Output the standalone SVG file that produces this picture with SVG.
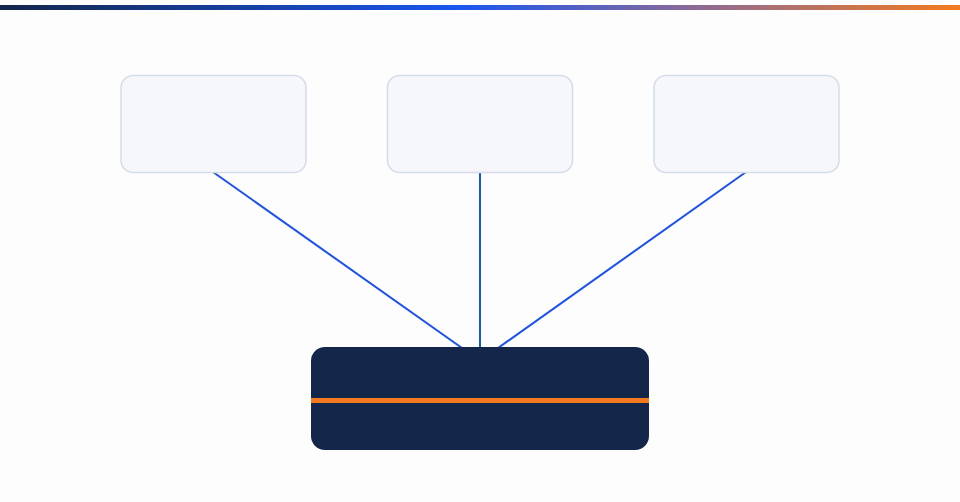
<svg xmlns="http://www.w3.org/2000/svg" width="960" height="502" viewBox="0 0 960 502">
<defs>
<linearGradient id="topbar" x1="0" y1="0" x2="1" y2="0">
<stop offset="0" stop-color="#13264a"/>
<stop offset="0.48" stop-color="#1a56f0"/>
<stop offset="0.72" stop-color="#8a6a96"/>
<stop offset="1" stop-color="#f47a1f"/>
</linearGradient>
<style>
.card{fill:#f5f7fa;stroke:#d6dce7;stroke-width:1.5}
.hub{fill:#14264a}
.link{stroke:#1a4ff0;stroke-width:2;fill:none}
</style>
</defs>
<rect x="0" y="0" width="960" height="502" fill="#fdfdfd"/>
<rect x="0" y="5" width="960" height="5" fill="url(#topbar)"/>
<g id="connectors">
<line class="link" x1="213" y1="172" x2="462" y2="348"/>
<line class="link" x1="480" y1="172" x2="480" y2="348"/>
<line class="link" x1="746" y1="172" x2="498" y2="348"/>
</g>
<g id="node-left"><rect class="card" x="121" y="75.5" width="185" height="97" rx="12"/></g>
<g id="node-middle"><rect class="card" x="387.5" y="75.5" width="185" height="97" rx="12"/></g>
<g id="node-right"><rect class="card" x="654" y="75.5" width="185" height="97" rx="12"/></g>
<g id="node-hub">
<rect class="hub" x="311" y="347" width="338" height="103" rx="14"/>
<rect x="311" y="398" width="338" height="5" fill="#f47a1f"/>
</g>
</svg>
